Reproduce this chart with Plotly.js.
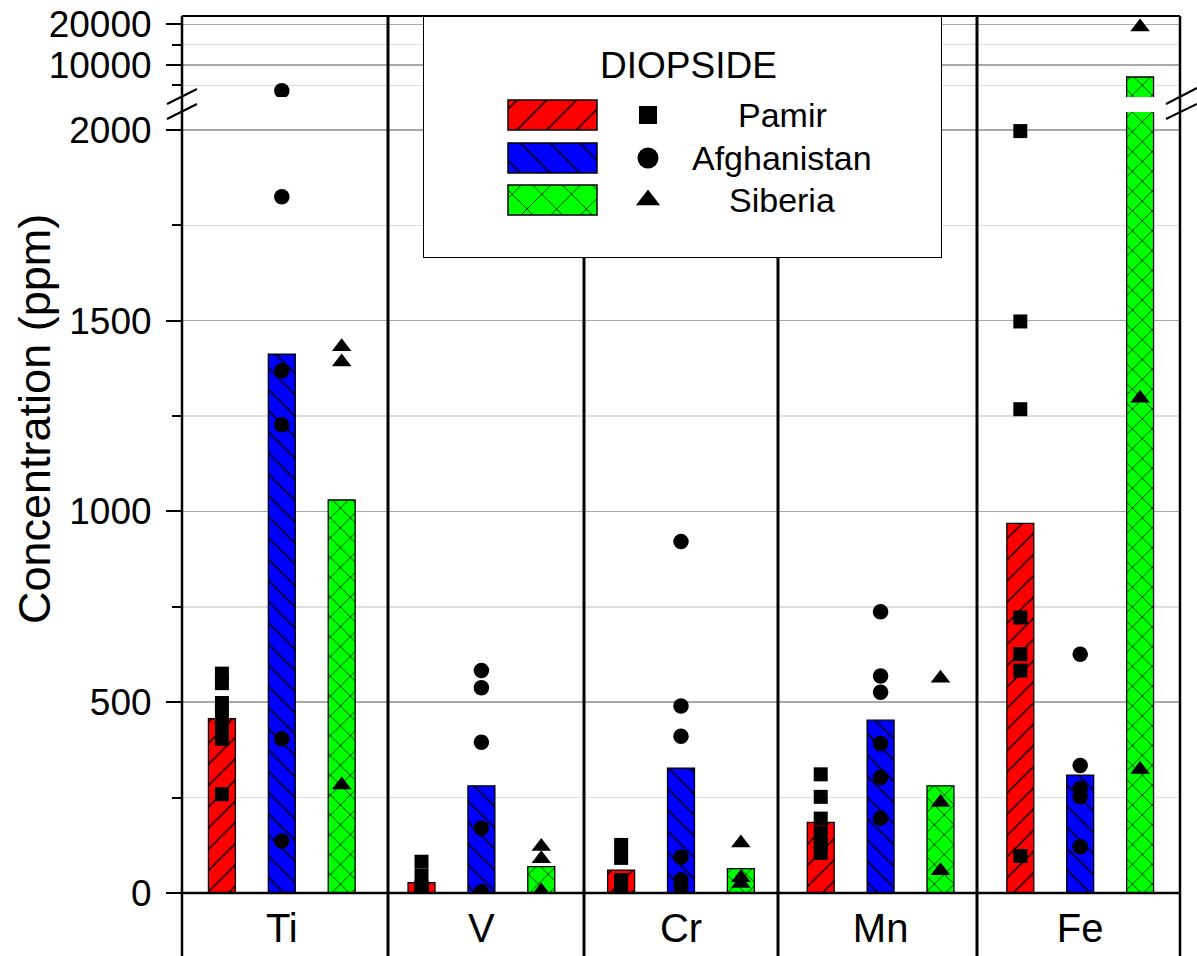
<!DOCTYPE html>
<html>
<head>
<meta charset="utf-8">
<script src="https://cdn.plot.ly/plotly-3.0.1.min.js"></script>
<style>
html,body{margin:0;padding:0;background:#fff;}
#chart{width:1197px;height:956px;}
</style>
</head>
<body>
<div id="chart"></div>
<script>
// ---------------- DATA ----------------
const CATEGORIES = ['Ti', 'V', 'Cr', 'Mn', 'Fe'];
const SERIES = ['Pamir', 'Afghanistan', 'Siberia'];
const LEGEND_TITLE = 'DIOPSIDE';
const Y_TITLE = 'Concentration (ppm)';

// bar heights (mean concentration, ppm)
const PAMIR_MEAN = [457, 27, 60, 185, 969];
const AFGHANISTAN_MEAN = [1412, 281, 327, 453, 309];
const SIBERIA_MEAN = [1030, 69, 64, 281, 7050];

// individual samples (ppm), one list per element
const PAMIR_POINTS = [
  [575, 550, 498, 467, 435, 404, 259],
  [82, 45, 15, 5, 2],
  [126, 92, 34, 18],
  [311, 252, 195, 157, 126, 105],
  [1997, 1498, 1268, 722, 626, 583, 97]
];
const AFGHANISTAN_POINTS = [
  [3650, 1825, 1369, 1227, 404, 136],
  [583, 538, 395, 170, 3],
  [921, 490, 411, 94, 34, 16],
  [737, 569, 526, 392, 303, 196],
  [626, 334, 274, 252, 121]
];
const SIBERIA_POINTS = [
  [1432, 1392, 283],
  [122, 90, 5],
  [131, 40, 25],
  [563, 237, 58],
  [19340, 1297, 324]
];

// ---------------- GEOMETRY / STYLE ----------------
const W = 1197, H = 956;
const M = {l: 182, r: 17, t: 16, b: 63};
const plotW = W - M.l - M.r, plotH = H - M.t - M.b;
const px2x = px => (px - M.l) / plotW;
const py2y = py => (M.t + plotH - py) / plotH;

const LOWER_RANGE = [0, 2047];     // lower (linear) segment
const UPPER_RANGE = [2140, 22040]; // upper segment above the break
const BREAK_VALUE = LOWER_RANGE[1];
const LOWER_DOMAIN = [0, py2y(112)];
const UPPER_DOMAIN = [py2y(97), 1];

const FONT = 'Liberation Sans, Arial, Helvetica, sans-serif';

const STYLE = {
  Pamir:       {color: '#ff0000', shape: '/',  symbol: 'square',      size: 14,   lsize: 18, off: -0.3, psize: 15},
  Afghanistan: {color: '#0000ff', shape: '\\', symbol: 'circle',      size: 15.5, lsize: 21, off: 0,    psize: 15},
  Siberia:     {color: '#00ff00', shape: 'x',  symbol: 'triangle-up', size: 17,   lsize: 21, off: 0.3,  psize: 14}
};
const BAR_WIDTH = 0.135;

const DATA = {
  Pamir: {mean: PAMIR_MEAN, pts: PAMIR_POINTS},
  Afghanistan: {mean: AFGHANISTAN_MEAN, pts: AFGHANISTAN_POINTS},
  Siberia: {mean: SIBERIA_MEAN, pts: SIBERIA_POINTS}
};

// ---------------- TRACES ----------------
const traces = [];
function barTrace(s, yaxis, filterFn) {
  const st = STYLE[s];
  const xs = [], ys = [];
  DATA[s].mean.forEach((v, i) => { if (filterFn(v)) { xs.push(i + st.off); ys.push(v); } });
  return {
    type: 'bar', x: xs, y: ys, xaxis: 'x', yaxis: yaxis, width: BAR_WIDTH,
    showlegend: false, hoverinfo: 'skip',
    marker: {
      color: st.color,
      line: {color: '#000', width: 1.3},
      pattern: {shape: st.shape, fgcolor: '#000', bgcolor: st.color, size: st.psize, solidity: 0.1, fillmode: 'replace'}
    }
  };
}
function pointTrace(s, yaxis, filterFn) {
  const st = STYLE[s];
  const xs = [], ys = [];
  DATA[s].pts.forEach((arr, i) => arr.forEach(v => { if (filterFn(v)) { xs.push(i + st.off); ys.push(v); } }));
  return {
    type: 'scatter', mode: 'markers', x: xs, y: ys, xaxis: 'x', yaxis: yaxis,
    showlegend: false, hoverinfo: 'skip',
    marker: {symbol: st.symbol, size: st.size, color: '#000', line: {width: 0}}
  };
}
const low = v => v <= BREAK_VALUE;
const high = v => v > BREAK_VALUE;
SERIES.forEach(s => traces.push(barTrace(s, 'y', () => true)));
SERIES.forEach(s => traces.push(barTrace(s, 'y2', high)));
SERIES.forEach(s => traces.push(pointTrace(s, 'y', low)));
SERIES.forEach(s => traces.push(pointTrace(s, 'y2', high)));

// legend (own small subplot, pixel-like units inside the box)
const LEG = {x0: 423, x1: 942, y0: 16, y1: 258, swX: 508, swLen: 89, swH: 30, rows: [115, 158, 200], mkX: 648, txtX: 782, titleY: 65, titleX: 688};
SERIES.forEach((s, i) => {
  const st = STYLE[s];
  traces.push({
    type: 'bar', orientation: 'h', x: [LEG.swLen], base: [LEG.swX], y: [LEG.rows[i]], width: LEG.swH,
    xaxis: 'x3', yaxis: 'y3', showlegend: false, hoverinfo: 'skip',
    marker: {color: st.color, line: {color: '#000', width: 1.5},
      pattern: {shape: st.shape, fgcolor: '#000', bgcolor: st.color, size: 21, solidity: 0.07, fillmode: 'replace'}}
  });
  traces.push({
    type: 'scatter', mode: 'markers', x: [LEG.mkX], y: [LEG.rows[i]], xaxis: 'x3', yaxis: 'y3',
    showlegend: false, hoverinfo: 'skip', cliponaxis: false,
    marker: {symbol: st.symbol, size: st.lsize, color: '#000'}
  });
});

// ---------------- SHAPES ----------------
const shapes = [];
const LW = 2.5;
const bottomY = py2y(H);
const legXd = [px2x(LEG.x0), px2x(LEG.x1)];
const legYd = [py2y(LEG.y1), py2y(LEG.y0)];
function pline(x0, y0, x1, y1, w) {
  shapes.push({type: 'line', xref: 'paper', yref: 'paper', x0, y0, x1, y1, layer: 'above', line: {color: '#000', width: w || LW}});
}
// frame
pline(0, bottomY, 0, 1);
pline(1, bottomY, 1, 1);
pline(0, 1, 1, 1, 2);
pline(0, 0, 1, 0);
// group separators
[388, 584, 778, 977].forEach(px => {
  const xp = px2x(px);
  const top = (xp > legXd[0] && xp < legXd[1]) ? legYd[0] : 1;
  pline(xp, bottomY, xp, top, 3);
});
// axis break marks
[[167, 104, 197, 89], [167, 119, 197, 104], [1166, 104, 1197, 88], [1166, 119, 1197, 104]].forEach(b => {
  pline(px2x(b[0]), py2y(b[1]), px2x(b[2]), py2y(b[3]), 2);
});
// legend box (inside legend subplot so it covers gridlines but not the swatches)
shapes.push({type: 'rect', xref: 'x3', yref: 'y3', x0: LEG.x0, x1: LEG.x1, y0: LEG.y0, y1: LEG.y1,
  layer: 'below', fillcolor: '#fff', line: {color: '#000', width: 2}});

// ---------------- ANNOTATIONS ----------------
const annotations = [
  {xref: 'paper', yref: 'paper', x: px2x(34), y: py2y(419), text: Y_TITLE, textangle: -90,
   showarrow: false, xanchor: 'center', yanchor: 'middle', font: {family: FONT, size: 45, color: '#000'}},
  {xref: 'x3', yref: 'y3', x: LEG.titleX, y: LEG.titleY, text: LEGEND_TITLE, showarrow: false,
   xanchor: 'center', yanchor: 'middle', font: {family: FONT, size: 37, color: '#000'}}
];
SERIES.forEach((s, i) => annotations.push({xref: 'x3', yref: 'y3', x: LEG.txtX, y: LEG.rows[i], text: s,
  showarrow: false, xanchor: 'center', yanchor: 'middle', font: {family: FONT, size: 34, color: '#000'}}));

// ---------------- LAYOUT ----------------
const yCommon = {
  ticks: 'outside', ticklen: 15, tickwidth: 2, tickcolor: '#000',
  showgrid: true, gridcolor: '#a9a9a9', gridwidth: 1.5,
  zeroline: false, showline: false, tickformat: 'd',
  tickfont: {family: FONT, size: 37, color: '#000'}, ticklabelstandoff: 7,
  anchor: 'x', fixedrange: true
};
const layout = {
  width: W, height: H,
  margin: M,
  paper_bgcolor: '#fff', plot_bgcolor: 'rgba(0,0,0,0)',
  barmode: 'overlay', showlegend: false,
  font: {family: FONT, color: '#000'},
  xaxis: {
    domain: [0, 1], range: [-0.5, 4.5], tickmode: 'array', tickvals: CATEGORIES.map((c, i) => i), ticktext: CATEGORIES,
    ticks: '', showgrid: false, zeroline: false, showline: false, fixedrange: true,
    tickfont: {family: FONT, size: 40, color: '#000'}, ticklabelstandoff: 8, anchor: 'y'
  },
  yaxis: Object.assign({}, yCommon, {
    domain: LOWER_DOMAIN, range: LOWER_RANGE, tick0: 0, dtick: 500,
    minor: {dtick: 250, ticklen: 9, tickwidth: 2, tickcolor: '#000', showgrid: true, gridcolor: '#dedede', gridwidth: 1.5, ticks: 'outside'}
  }),
  yaxis2: Object.assign({}, yCommon, {
    domain: UPPER_DOMAIN, range: UPPER_RANGE, tick0: 0, dtick: 10000,
    minor: {dtick: 5000, ticklen: 9, tickwidth: 2, tickcolor: '#000', showgrid: true, gridcolor: '#dedede', gridwidth: 1.5, ticks: 'outside'}
  }),
  xaxis3: {domain: legXd, range: [LEG.x0, LEG.x1], visible: false, fixedrange: true, anchor: 'y3'},
  yaxis3: {domain: legYd, range: [LEG.y1, LEG.y0], visible: false, fixedrange: true, anchor: 'x3'},
  shapes: shapes,
  annotations: annotations
};

Plotly.newPlot('chart', traces, layout, {staticPlot: true, displayModeBar: false});
</script>
</body>
</html>
